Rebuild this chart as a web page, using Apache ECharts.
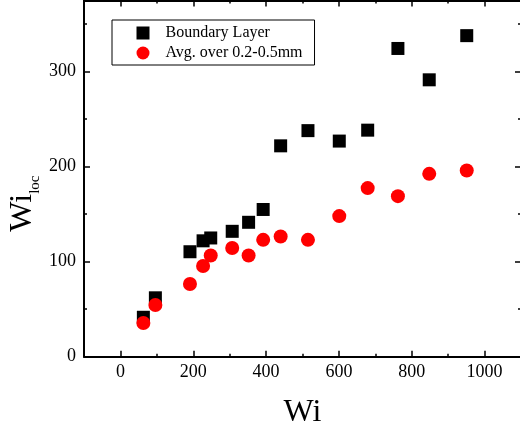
<!DOCTYPE html>
<html><head><meta charset="utf-8">
<script src="https://cdn.jsdelivr.net/npm/echarts@6/dist/echarts.min.js"></script>
<style>html,body{margin:0;padding:0;background:#fff}#c{width:520px;height:431px}</style>
</head><body><div id="c"></div>
<script>
const wi = [63, 96, 191, 227, 248, 307, 352, 392, 440, 515, 601, 679, 762, 848, 951];
const boundaryLayer = [41.5, 62, 110.5, 122, 125, 132, 141.5, 155, 222, 238, 227, 238.5, 324.5, 291.5, 338];
const avgOver = [35.5, 54.5, 76.5, 95.5, 106.5, 114.5, 106.5, 123, 126.5, 123, 148, 177.5, 169, 192.5, 196];
const seriesNames = ['Boundary Layer', 'Avg. over 0.2-0.5mm'];
const xMajorTicks = [0, 200, 400, 600, 800, 1000];
const xMinorTicks = [100, 300, 500, 700, 900];
const yMajorTicks = [0, 100, 200, 300];
const yMinorTicks = [50, 150, 250, 350];
const xTitle = 'Wi';
const yTitleMain = 'Wi';
const yTitleSub = 'loc';

const FONT = "'Liberation Serif', 'Times New Roman', serif";
const X_MIN = -100, X_MAX = 1100, Y_MIN = 0, Y_MAX = 375;

function xAxis(position, ticks, len, showLine, extra) {
  return Object.assign({
    type: 'value', position: position, min: X_MIN, max: X_MAX,
    axisLine: { show: showLine, onZero: false, lineStyle: { color: '#000', width: 2 } },
    axisTick: { show: true, inside: true, length: len, customValues: ticks, lineStyle: { color: '#000', width: 1.5 } },
    axisLabel: { show: false },
    splitLine: { show: false }
  }, extra || {});
}
function yAxis(position, ticks, len, showLine, extra) {
  return Object.assign({
    type: 'value', position: position, min: Y_MIN, max: Y_MAX,
    axisLine: { show: showLine, onZero: false, lineStyle: { color: '#000', width: 2 } },
    axisTick: { show: true, inside: true, length: len, customValues: ticks, lineStyle: { color: '#000', width: 1.5 } },
    axisLabel: { show: false },
    splitLine: { show: false }
  }, extra || {});
}

const chart = echarts.init(document.getElementById('c'), null, { renderer: 'canvas' });
chart.setOption({
  animation: false,
  backgroundColor: '#fff',
  grid: { left: 84, right: -1, top: 0.5, bottom: 74.3, containLabel: false, outerBoundsMode: 'none' },
  legend: {
    left: 112, top: 20, orient: 'vertical',
    borderColor: '#000', borderWidth: 1, borderRadius: 0,
    padding: [5, 12, 4, 24.5],
    itemGap: 4, itemWidth: 13, itemHeight: 13,
    selectedMode: false,
    textStyle: { fontFamily: FONT, fontSize: 16, color: '#000', lineHeight: 16, padding: [0, 0, 0, 11] },
    data: [
      { name: seriesNames[0], icon: 'rect' },
      { name: seriesNames[1], icon: 'circle' }
    ]
  },
  xAxis: [
    xAxis('bottom', xMajorTicks, 6, true, {
      name: xTitle, nameLocation: 'middle', nameGap: 40, nameMoveOverlap: false,
      nameTextStyle: { fontFamily: FONT, fontSize: 32, color: '#000' },
      axisLabel: { show: true, customValues: xMajorTicks, margin: 7, fontFamily: FONT, fontSize: 18, color: '#000', formatter: v => String(v) }
    }),
    xAxis('bottom', xMinorTicks, 3, false),
    xAxis('top', xMajorTicks, 6, true),
    xAxis('top', xMinorTicks, 3, false)
  ],
  yAxis: [
    yAxis('left', yMajorTicks, 6, true, {
      name: '{a|' + yTitleMain + '}{b|' + yTitleSub + '}',
      nameLocation: 'middle', nameRotate: 90, nameGap: 43, nameMoveOverlap: false,
      nameTextStyle: {
        color: '#000', padding: [0, 50, 0, 0],
        rich: {
          a: { fontFamily: FONT, fontSize: 32, lineHeight: 36, color: '#000', verticalAlign: 'middle' },
          b: { fontFamily: FONT, fontSize: 15, lineHeight: 15, color: '#000', verticalAlign: 'middle', padding: [25, 0, 0, 0] }
        }
      },
      axisLabel: { show: true, customValues: yMajorTicks, margin: 8, fontFamily: FONT, fontSize: 18, color: '#000', formatter: v => String(v) }
    }),
    yAxis('left', yMinorTicks, 3, false),
    yAxis('right', yMajorTicks, 6, true),
    yAxis('right', yMinorTicks, 3, false)
  ],
  series: [
    {
      name: seriesNames[0], type: 'scatter', xAxisIndex: 0, yAxisIndex: 0,
      symbol: 'rect', symbolSize: 13,
      itemStyle: { color: '#000', opacity: 1 },
      data: wi.map((x, i) => [x, boundaryLayer[i]])
    },
    {
      name: seriesNames[1], type: 'scatter', xAxisIndex: 0, yAxisIndex: 0,
      symbol: 'circle', symbolSize: 14,
      itemStyle: { color: '#ff0000', opacity: 1 },
      data: wi.map((x, i) => [x, avgOver[i]])
    }
  ]
});
</script>
</body></html>
